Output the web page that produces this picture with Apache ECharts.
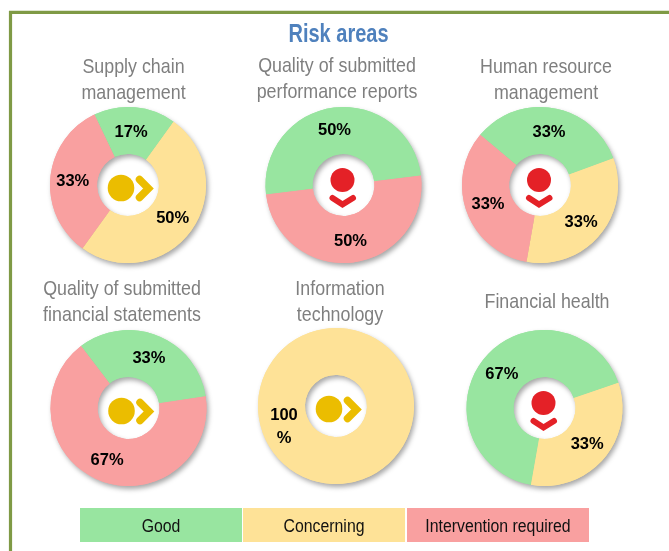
<!DOCTYPE html>
<html><head><meta charset="utf-8">
<style>html,body{margin:0;padding:0;background:#fff}#c{width:669px;height:551px}</style>
<script src="https://cdn.jsdelivr.net/npm/echarts@6/dist/echarts.min.js"></script>
</head><body><div id="c"></div>
<script>
var statusNames = ['Good', 'Concerning', 'Intervention required'];
var chartTitle = 'Risk areas';
var supplyChain = [17, 50, 33];
var performanceReports = [50, 0, 50];
var humanResource = [33, 33, 33];
var financialStatements = [33, 0, 67];
var informationTechnology = [0, 100, 0];
var financialHealth = [67, 33, 0];

var GREEN = '#98E5A0', YELLOW = '#FEE297', RED = '#F9A0A0';
var colors = [GREEN, YELLOW, RED];
var FONT = '"Liberation Sans",Arial,sans-serif';

var panels = [
  {name:'Supply chain\nmanagement', v:supplyChain, c:[128,185], start:115.5, icon:'y', tx:133.5, ty:80, nudge:[[-2,5],[-2,0],[2,2]]},
  {name:'Quality of submitted\nperformance reports', v:performanceReports, c:[343.5,185], start:187, icon:'r', tx:337, ty:79, nudge:[[-2,3],[0,0],[0,-1]]},
  {name:'Human resource\nmanagement', v:humanResource, c:[540,185], start:140, icon:'r', tx:546, ty:80, nudge:[[-1,4],[-3,0],[2,0]]},
  {name:'Quality of submitted\nfinancial statements', v:financialStatements, c:[128.5,408], start:127.5, icon:'y', tx:122, ty:302, nudge:[[-1,4],[0,0],[0,-1]]},
  {name:'Information\ntechnology', v:informationTechnology, c:[336,406], start:20, icon:'y', tx:340, ty:302, nudge:[[0,0],[2,1],[0,0]]},
  {name:'Financial health', v:financialHealth, c:[544.5,408], start:260, icon:'r', tx:547, ty:302, nudge:[[1,4],[-1,-1],[0,0]]}
];

var graphic = [
  {type:'polyline', silent:true, shape:{points:[[10.5,551],[10.5,12.3],[669,12.3]]},
   style:{stroke:'#7F9A45', lineWidth:3.2, fill:null}},
  {type:'text', silent:true, x:338.5, y:35.5, scaleX:0.8,
   style:{text:chartTitle, font:'bold 25px '+FONT, fill:'#4F81BD', align:'center', verticalAlign:'middle'}}
];
panels.forEach(function(p){
  var x=p.c[0], y=p.c[1];
  graphic.push({type:'text',silent:true,x:p.tx,y:p.ty,scaleX:0.85,
    style:{text:p.name,font:'21px '+FONT,fill:'#7F7F7F',align:'center',verticalAlign:'middle',lineHeight:26}});
  if(p.icon==='y'){
    graphic.push({type:'circle',silent:true,shape:{cx:x-7,cy:y+3,r:13.3},style:{fill:'#EBBD00'}});
    graphic.push({type:'polyline',silent:true,shape:{points:[[x+11.5,y-5.5],[x+20.5,y+3.5],[x+11.5,y+12.5]]},
      style:{stroke:'#EBBD00',lineWidth:7.5,lineCap:'round',lineJoin:'miter',fill:null}});
  } else {
    graphic.push({type:'circle',silent:true,shape:{cx:x-1,cy:y-5,r:12},style:{fill:'#E42127'}});
    graphic.push({type:'polyline',silent:true,shape:{points:[[x-11,y+13],[x-1,y+19.5],[x+9.5,y+13]]},
      style:{stroke:'#E42127',lineWidth:6,lineCap:'round',lineJoin:'miter',fill:null}});
  }
});
var legendBoxes = [[80,162],[243,162],[407,182]];
statusNames.forEach(function(n,i){
  var b=legendBoxes[i];
  graphic.push({type:'rect',silent:true,shape:{x:b[0],y:508,width:b[1],height:34},style:{fill:colors[i]}});
  graphic.push({type:'text',silent:true,x:b[0]+b[1]/2,y:527,scaleX:0.88,
    style:{text:n,font:'18px '+FONT,fill:'#111',align:'center',verticalAlign:'middle'}});
});

function slices(p){
  return p.v.map(function(v,i){
    return {value:v,name:statusNames[i],itemStyle:{color:colors[i]},
      label:{offset:p.nudge[i]}};
  }).filter(function(d){return d.value>0;});
}
var series = [];
panels.forEach(function(p){
  // shadow layer underneath, so slices do not shade one another
  series.push({
    type:'pie', center:p.c, radius:[31,78], startAngle:p.start, silent:true, animation:false, z:1,
    itemStyle:{shadowBlur:5,shadowOffsetX:2,shadowOffsetY:3,shadowColor:'rgba(0,0,0,0.35)'},
    label:{show:false}, labelLine:{show:false}, data:slices(p)
  });
});
panels.forEach(function(p){
  series.push({
    type:'pie', center:p.c, radius:[31,78], startAngle:p.start, silent:true, animation:false, z:2,
    label:{show:true,position:'inside',fontFamily:FONT,fontSize:16.5,fontWeight:'bold',color:'#000',
      lineHeight:23,
      formatter:function(d){return d.value===100?'100\n%':d.value+'%';}},
    labelLine:{show:false}, data:slices(p)
  });
});

var chart = echarts.init(document.getElementById('c'),null,{renderer:'canvas'});
chart.setOption({backgroundColor:'#fff',animation:false,series:series,graphic:graphic});
</script></body></html>
